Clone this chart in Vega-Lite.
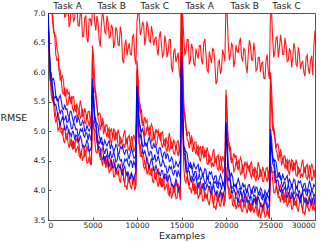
{
  "$schema": "https://vega.github.io/schema/vega-lite/v6.json",
  "width": 267,
  "height": 207,
  "autosize": "none",
  "padding": {"left": 48, "top": 13, "right": 12, "bottom": 23},
  "config": {
    "view": {"stroke": "#555", "strokeWidth": 1},
    "font": "DejaVu Sans",
    "axis": {"grid": false, "domain": false, "labelFont": "DejaVu Sans", "titleFont": "DejaVu Sans", "labelFontSize": 7.5, "labelColor": "#222", "titleColor": "#222", "titleFontWeight": "normal", "tickColor": "#555", "tickSize": -3, "labelPadding": 6, "labelOverlap": false}
  },
  "resolve": {"axis": {"x": "independent", "y": "independent"}},
  "layer": [
    {
      "data": {"values": [
        {"x":0,"r0":7.8,"ru1":7.6,"ru2":7.42,"b1":6.97,"b2":6.97,"b3":7.04,"rl1":7.0,"rl2":6.82},
        {"x":250,"r0":7.7,"ru1":7.19,"ru2":7.23,"b1":6.05,"b2":6.0,"b3":5.86,"rl1":5.89,"rl2":5.88},
        {"x":500,"r0":7.6,"ru1":7.07,"ru2":6.89,"b1":5.87,"b2":5.78,"b3":5.71,"rl1":5.51,"rl2":5.53},
        {"x":750,"r0":7.5,"ru1":6.63,"ru2":6.63,"b1":5.79,"b2":5.56,"b3":5.44,"rl1":5.44,"rl2":5.25},
        {"x":1000,"r0":7.4,"ru1":6.4,"ru2":6.2,"b1":5.57,"b2":5.52,"b3":5.36,"rl1":5.22,"rl2":5.22},
        {"x":1250,"r0":7.3,"ru1":6.02,"ru2":6.04,"b1":5.56,"b2":5.38,"b3":5.19,"rl1":5.21,"rl2":5.05},
        {"x":1500,"r0":7.25,"ru1":5.91,"ru2":5.87,"b1":5.51,"b2":5.36,"b3":5.18,"rl1":5.0,"rl2":5.03},
        {"x":1750,"r0":7.2,"ru1":5.83,"ru2":5.63,"b1":5.37,"b2":5.2,"b3":5.16,"rl1":5.04,"rl2":4.84},
        {"x":2000,"r0":6.95,"ru1":5.61,"ru2":5.6,"b1":5.37,"b2":5.27,"b3":5.02,"rl1":4.92,"rl2":4.95},
        {"x":2250,"r0":7.1,"ru1":5.63,"ru2":5.45,"b1":5.27,"b2":5.16,"b3":5.04,"rl1":4.99,"rl2":4.81},
        {"x":2500,"r0":6.85,"ru1":5.52,"ru2":5.54,"b1":5.34,"b2":5.15,"b3":4.97,"rl1":4.8,"rl2":4.82},
        {"x":2750,"r0":7.05,"ru1":5.58,"ru2":5.39,"b1":5.22,"b2":5.05,"b3":5.0,"rl1":4.84,"rl2":4.69},
        {"x":3000,"r0":6.9,"ru1":5.38,"ru2":5.42,"b1":5.24,"b2":5.11,"b3":4.85,"rl1":4.75,"rl2":4.79},
        {"x":3250,"r0":7.15,"ru1":5.47,"ru2":5.28,"b1":5.14,"b2":5.04,"b3":4.92,"rl1":4.83,"rl2":4.71},
        {"x":3500,"r0":6.78,"ru1":5.38,"ru2":5.38,"b1":5.2,"b2":4.95,"b3":4.84,"rl1":4.77,"rl2":4.59},
        {"x":3750,"r0":7.0,"ru1":5.42,"ru2":5.26,"b1":5.11,"b2":5.0,"b3":4.86,"rl1":4.63,"rl2":4.67},
        {"x":4000,"r0":6.6,"ru1":5.26,"ru2":5.29,"b1":5.14,"b2":4.93,"b3":4.76,"rl1":4.73,"rl2":4.57},
        {"x":4250,"r0":6.95,"ru1":5.31,"ru2":5.13,"b1":5.01,"b2":4.98,"b3":4.78,"rl1":4.62,"rl2":4.64},
        {"x":4500,"r0":6.5,"ru1":5.33,"ru2":5.18,"b1":5.04,"b2":4.85,"b3":4.79,"rl1":4.67,"rl2":4.47},
        {"x":4750,"r0":6.9,"ru1":5.18,"ru2":5.2,"b1":5.05,"b2":4.9,"b3":4.68,"rl1":4.52,"rl2":4.44},
        {"x":5000,"r0":7.05,"ru1":6.45,"ru2":6.3,"b1":5.89,"b2":5.77,"b3":5.72,"rl1":5.3,"rl2":5.2},
        {"x":5250,"r0":6.85,"ru1":5.86,"ru2":5.66,"b1":5.26,"b2":5.25,"b3":5.15,"rl1":5.01,"rl2":4.86},
        {"x":5500,"r0":6.95,"ru1":5.42,"ru2":5.44,"b1":5.14,"b2":4.98,"b3":4.84,"rl1":4.81,"rl2":4.63},
        {"x":5750,"r0":6.55,"ru1":5.31,"ru2":5.15,"b1":4.93,"b2":4.79,"b3":4.74,"rl1":4.63,"rl2":4.66},
        {"x":6000,"r0":6.8,"ru1":5.08,"ru2":5.12,"b1":4.9,"b2":4.79,"b3":4.56,"rl1":4.68,"rl2":4.52},
        {"x":6250,"r0":6.9,"ru1":5.13,"ru2":4.95,"b1":4.77,"b2":4.69,"b3":4.59,"rl1":4.56,"rl2":4.56},
        {"x":6500,"r0":6.65,"ru1":5.11,"ru2":4.99,"b1":4.79,"b2":4.7,"b3":4.57,"rl1":4.57,"rl2":4.38},
        {"x":6750,"r0":6.85,"ru1":4.97,"ru2":5.01,"b1":4.81,"b2":4.57,"b3":4.46,"rl1":4.4,"rl2":4.44},
        {"x":7000,"r0":6.6,"ru1":5.0,"ru2":4.85,"b1":4.7,"b2":4.67,"b3":4.48,"rl1":4.53,"rl2":4.34},
        {"x":7250,"r0":6.75,"ru1":4.89,"ru2":4.91,"b1":4.74,"b2":4.57,"b3":4.39,"rl1":4.4,"rl2":4.42},
        {"x":7500,"r0":6.5,"ru1":5.02,"ru2":4.84,"b1":4.7,"b2":4.58,"b3":4.47,"rl1":4.42,"rl2":4.24},
        {"x":7750,"r0":6.7,"ru1":4.89,"ru2":4.92,"b1":4.75,"b2":4.5,"b3":4.36,"rl1":4.3,"rl2":4.29},
        {"x":8000,"r0":6.45,"ru1":4.95,"ru2":4.75,"b1":4.62,"b2":4.57,"b3":4.39,"rl1":4.4,"rl2":4.2},
        {"x":8250,"r0":6.65,"ru1":4.83,"ru2":4.86,"b1":4.71,"b2":4.52,"b3":4.3,"rl1":4.32,"rl2":4.28},
        {"x":8500,"r0":6.15,"ru1":4.95,"ru2":4.79,"b1":4.65,"b2":4.44,"b3":4.37,"rl1":4.2,"rl2":4.22},
        {"x":8750,"r0":6.55,"ru1":4.84,"ru2":4.84,"b1":4.68,"b2":4.5,"b3":4.29,"rl1":4.28,"rl2":4.08},
        {"x":9000,"r0":6.4,"ru1":4.9,"ru2":4.71,"b1":4.59,"b2":4.44,"b3":4.32,"rl1":4.18,"rl2":4.18},
        {"x":9250,"r0":6.3,"ru1":4.76,"ru2":4.78,"b1":4.63,"b2":4.5,"b3":4.2,"rl1":4.26,"rl2":4.08},
        {"x":9500,"r0":6.6,"ru1":4.83,"ru2":4.82,"b1":4.65,"b2":4.38,"b3":4.24,"rl1":4.1,"rl2":4.14},
        {"x":9750,"r0":6.25,"ru1":4.88,"ru2":4.7,"b1":4.55,"b2":4.44,"b3":4.26,"rl1":4.18,"rl2":4.0},
        {"x":10000,"r0":6.85,"ru1":6.2,"ru2":6.05,"b1":5.77,"b2":5.72,"b3":5.74,"rl1":5.45,"rl2":5.35},
        {"x":10250,"r0":6.95,"ru1":5.44,"ru2":5.48,"b1":5.2,"b2":5.1,"b3":4.91,"rl1":4.79,"rl2":4.78},
        {"x":10500,"r0":6.7,"ru1":5.37,"ru2":5.19,"b1":4.99,"b2":4.89,"b3":4.82,"rl1":4.56,"rl2":4.58},
        {"x":10750,"r0":6.8,"ru1":5.15,"ru2":5.15,"b1":4.96,"b2":4.74,"b3":4.62,"rl1":4.59,"rl2":4.4},
        {"x":11000,"r0":6.6,"ru1":5.15,"ru2":4.95,"b1":4.8,"b2":4.75,"b3":4.59,"rl1":4.45,"rl2":4.45},
        {"x":11250,"r0":6.75,"ru1":4.99,"ru2":5.01,"b1":4.84,"b2":4.65,"b3":4.45,"rl1":4.48,"rl2":4.32},
        {"x":11500,"r0":6.5,"ru1":5.04,"ru2":5.0,"b1":4.82,"b2":4.66,"b3":4.46,"rl1":4.3,"rl2":4.33},
        {"x":11750,"r0":6.65,"ru1":5.06,"ru2":4.86,"b1":4.71,"b2":4.52,"b3":4.46,"rl1":4.36,"rl2":4.16},
        {"x":12000,"r0":6.55,"ru1":4.9,"ru2":4.89,"b1":4.73,"b2":4.61,"b3":4.33,"rl1":4.25,"rl2":4.28},
        {"x":12250,"r0":6.4,"ru1":4.97,"ru2":4.79,"b1":4.64,"b2":4.51,"b3":4.36,"rl1":4.33,"rl2":4.15},
        {"x":12500,"r0":6.6,"ru1":4.9,"ru2":4.92,"b1":4.72,"b2":4.51,"b3":4.3,"rl1":4.15,"rl2":4.17},
        {"x":12750,"r0":6.45,"ru1":4.97,"ru2":4.78,"b1":4.61,"b2":4.42,"b3":4.34,"rl1":4.2,"rl2":4.05},
        {"x":13000,"r0":6.3,"ru1":4.79,"ru2":4.83,"b1":4.63,"b2":4.48,"b3":4.19,"rl1":4.11,"rl2":4.15},
        {"x":13250,"r0":6.5,"ru1":4.9,"ru2":4.71,"b1":4.53,"b2":4.41,"b3":4.26,"rl1":4.19,"rl2":4.07},
        {"x":13500,"r0":6.35,"ru1":4.82,"ru2":4.82,"b1":4.59,"b2":4.32,"b3":4.18,"rl1":4.13,"rl2":3.95},
        {"x":13750,"r0":6.55,"ru1":4.87,"ru2":4.71,"b1":4.5,"b2":4.37,"b3":4.2,"rl1":3.99,"rl2":4.03},
        {"x":14000,"r0":6.0,"ru1":4.73,"ru2":4.76,"b1":4.52,"b2":4.29,"b3":4.09,"rl1":4.09,"rl2":3.93},
        {"x":14250,"r0":6.4,"ru1":4.79,"ru2":4.61,"b1":4.4,"b2":4.34,"b3":4.11,"rl1":4.0,"rl2":4.02},
        {"x":14500,"r0":6.25,"ru1":4.82,"ru2":4.67,"b1":4.44,"b2":4.22,"b3":4.13,"rl1":4.07,"rl2":3.87},
        {"x":14750,"r0":6.0,"ru1":4.69,"ru2":4.71,"b1":4.46,"b2":4.28,"b3":4.03,"rl1":3.94,"rl2":3.96},
        {"x":15000,"r0":7.1,"ru1":7.6,"ru2":7.5,"b1":6.34,"b2":6.22,"b3":6.17,"rl1":6.0,"rl2":5.9},
        {"x":15250,"r0":6.6,"ru1":5.51,"ru2":5.31,"b1":4.76,"b2":4.75,"b3":4.65,"rl1":4.56,"rl2":4.41},
        {"x":15500,"r0":6.35,"ru1":5.07,"ru2":5.09,"b1":4.66,"b2":4.51,"b3":4.39,"rl1":4.31,"rl2":4.13},
        {"x":15750,"r0":6.55,"ru1":4.99,"ru2":4.83,"b1":4.48,"b2":4.36,"b3":4.34,"rl1":4.13,"rl2":4.16},
        {"x":16000,"r0":6.2,"ru1":4.78,"ru2":4.82,"b1":4.48,"b2":4.39,"b3":4.18,"rl1":4.2,"rl2":4.04},
        {"x":16250,"r0":6.4,"ru1":4.83,"ru2":4.65,"b1":4.37,"b2":4.3,"b3":4.22,"rl1":4.09,"rl2":4.09},
        {"x":16500,"r0":6.1,"ru1":4.82,"ru2":4.7,"b1":4.4,"b2":4.32,"b3":4.21,"rl1":4.12,"rl2":3.93},
        {"x":16750,"r0":6.3,"ru1":4.67,"ru2":4.71,"b1":4.41,"b2":4.19,"b3":4.1,"rl1":3.96,"rl2":4.0},
        {"x":17000,"r0":6.45,"ru1":4.7,"ru2":4.55,"b1":4.3,"b2":4.29,"b3":4.12,"rl1":4.1,"rl2":3.91},
        {"x":17250,"r0":6.2,"ru1":4.59,"ru2":4.61,"b1":4.34,"b2":4.2,"b3":4.04,"rl1":3.98,"rl2":4.0},
        {"x":17500,"r0":6.5,"ru1":4.72,"ru2":4.54,"b1":4.29,"b2":4.21,"b3":4.13,"rl1":4.01,"rl2":3.83},
        {"x":17750,"r0":6.3,"ru1":4.59,"ru2":4.62,"b1":4.34,"b2":4.13,"b3":4.03,"rl1":3.9,"rl2":3.89},
        {"x":18000,"r0":6.0,"ru1":4.64,"ru2":4.44,"b1":4.2,"b2":4.2,"b3":4.06,"rl1":4.01,"rl2":3.81},
        {"x":18250,"r0":6.25,"ru1":4.52,"ru2":4.55,"b1":4.28,"b2":4.14,"b3":3.97,"rl1":3.94,"rl2":3.9},
        {"x":18500,"r0":6.4,"ru1":4.63,"ru2":4.47,"b1":4.21,"b2":4.06,"b3":4.04,"rl1":3.83,"rl2":3.85},
        {"x":18750,"r0":6.15,"ru1":4.52,"ru2":4.52,"b1":4.24,"b2":4.12,"b3":3.96,"rl1":3.93,"rl2":3.73},
        {"x":19000,"r0":5.85,"ru1":4.57,"ru2":4.38,"b1":4.15,"b2":4.06,"b3":4.0,"rl1":3.85,"rl2":3.85},
        {"x":19250,"r0":6.2,"ru1":4.42,"ru2":4.44,"b1":4.19,"b2":4.13,"b3":3.89,"rl1":3.95,"rl2":3.77},
        {"x":19500,"r0":6.05,"ru1":4.48,"ru2":4.47,"b1":4.21,"b2":4.01,"b3":3.94,"rl1":3.81,"rl2":3.85},
        {"x":19750,"r0":6.3,"ru1":4.52,"ru2":4.34,"b1":4.12,"b2":4.08,"b3":3.97,"rl1":3.91,"rl2":3.73},
        {"x":20000,"r0":7.2,"ru1":5.7,"ru2":5.6,"b1":5.17,"b2":5.12,"b3":5.14,"rl1":4.4,"rl2":4.22},
        {"x":20250,"r0":6.5,"ru1":4.79,"ru2":4.83,"b1":4.45,"b2":4.35,"b3":4.16,"rl1":4.04,"rl2":4.03},
        {"x":20500,"r0":6.3,"ru1":4.72,"ru2":4.54,"b1":4.24,"b2":4.16,"b3":4.11,"rl1":3.86,"rl2":3.88},
        {"x":20750,"r0":6.45,"ru1":4.53,"ru2":4.53,"b1":4.22,"b2":4.04,"b3":3.96,"rl1":3.94,"rl2":3.75},
        {"x":21000,"r0":6.2,"ru1":4.55,"ru2":4.35,"b1":4.08,"b2":4.08,"b3":3.97,"rl1":3.84,"rl2":3.84},
        {"x":21250,"r0":6.35,"ru1":4.41,"ru2":4.43,"b1":4.13,"b2":4.0,"b3":3.86,"rl1":3.91,"rl2":3.75},
        {"x":21500,"r0":6.5,"ru1":4.47,"ru2":4.43,"b1":4.13,"b2":4.03,"b3":3.9,"rl1":3.76,"rl2":3.79},
        {"x":21750,"r0":6.25,"ru1":4.5,"ru2":4.3,"b1":4.03,"b2":3.91,"b3":3.92,"rl1":3.85,"rl2":3.65},
        {"x":22000,"r0":6.4,"ru1":4.35,"ru2":4.34,"b1":4.06,"b2":4.02,"b3":3.82,"rl1":3.77,"rl2":3.8},
        {"x":22250,"r0":6.1,"ru1":4.42,"ru2":4.24,"b1":3.99,"b2":3.94,"b3":3.87,"rl1":3.87,"rl2":3.69},
        {"x":22500,"r0":6.3,"ru1":4.36,"ru2":4.38,"b1":4.09,"b2":3.96,"b3":3.83,"rl1":3.71,"rl2":3.73},
        {"x":22750,"r0":6.45,"ru1":4.45,"ru2":4.26,"b1":4.0,"b2":3.89,"b3":3.89,"rl1":3.78,"rl2":3.63},
        {"x":23000,"r0":6.2,"ru1":4.28,"ru2":4.32,"b1":4.04,"b2":3.97,"b3":3.76,"rl1":3.71,"rl2":3.75},
        {"x":23250,"r0":6.35,"ru1":4.4,"ru2":4.21,"b1":3.96,"b2":3.92,"b3":3.85,"rl1":3.81,"rl2":3.69},
        {"x":23500,"r0":6.05,"ru1":4.33,"ru2":4.33,"b1":4.04,"b2":3.85,"b3":3.79,"rl1":3.77,"rl2":3.59},
        {"x":23750,"r0":6.25,"ru1":4.39,"ru2":4.23,"b1":3.97,"b2":3.92,"b3":3.83,"rl1":3.65,"rl2":3.69},
        {"x":24000,"r0":6.15,"ru1":4.26,"ru2":4.29,"b1":4.01,"b2":3.86,"b3":3.74,"rl1":3.77,"rl2":3.61},
        {"x":24250,"r0":5.9,"ru1":4.33,"ru2":4.15,"b1":3.9,"b2":3.93,"b3":3.78,"rl1":3.69,"rl2":3.71},
        {"x":24500,"r0":6.2,"ru1":4.37,"ru2":4.22,"b1":3.95,"b2":3.82,"b3":3.81,"rl1":3.77,"rl2":3.57},
        {"x":24750,"r0":6.0,"ru1":4.25,"ru2":4.27,"b1":3.98,"b2":3.89,"b3":3.72,"rl1":3.62,"rl2":3.56},
        {"x":25000,"r0":7.1,"ru1":6.0,"ru2":5.9,"b1":5.04,"b2":4.92,"b3":4.87,"rl1":4.5,"rl2":4.4},
        {"x":25250,"r0":6.55,"ru1":5.21,"ru2":5.01,"b1":4.56,"b2":4.55,"b3":4.45,"rl1":4.31,"rl2":4.16},
        {"x":25500,"r0":6.35,"ru1":4.87,"ru2":4.89,"b1":4.51,"b2":4.36,"b3":4.24,"rl1":4.14,"rl2":3.96},
        {"x":25750,"r0":6.6,"ru1":4.79,"ru2":4.63,"b1":4.33,"b2":4.21,"b3":4.18,"rl1":3.98,"rl2":4.01},
        {"x":26000,"r0":6.4,"ru1":4.56,"ru2":4.6,"b1":4.31,"b2":4.22,"b3":4.01,"rl1":4.05,"rl2":3.89},
        {"x":26250,"r0":6.5,"ru1":4.6,"ru2":4.42,"b1":4.18,"b2":4.12,"b3":4.04,"rl1":3.94,"rl2":3.94},
        {"x":26500,"r0":6.3,"ru1":4.58,"ru2":4.46,"b1":4.21,"b2":4.14,"b3":4.03,"rl1":3.97,"rl2":3.78},
        {"x":26750,"r0":6.45,"ru1":4.44,"ru2":4.48,"b1":4.22,"b2":4.01,"b3":3.92,"rl1":3.82,"rl2":3.86},
        {"x":27000,"r0":6.2,"ru1":4.47,"ru2":4.32,"b1":4.11,"b2":4.11,"b3":3.95,"rl1":3.96,"rl2":3.77},
        {"x":27250,"r0":6.35,"ru1":4.37,"ru2":4.39,"b1":4.15,"b2":4.02,"b3":3.87,"rl1":3.84,"rl2":3.86},
        {"x":27500,"r0":6.25,"ru1":4.5,"ru2":4.32,"b1":4.11,"b2":4.03,"b3":3.96,"rl1":3.88,"rl2":3.7},
        {"x":27750,"r0":6.4,"ru1":4.38,"ru2":4.41,"b1":4.17,"b2":3.96,"b3":3.87,"rl1":3.78,"rl2":3.77},
        {"x":28000,"r0":6.1,"ru1":4.44,"ru2":4.24,"b1":4.04,"b2":4.04,"b3":3.91,"rl1":3.9,"rl2":3.7},
        {"x":28250,"r0":6.3,"ru1":4.33,"ru2":4.36,"b1":4.13,"b2":3.99,"b3":3.83,"rl1":3.84,"rl2":3.8},
        {"x":28500,"r0":6.15,"ru1":4.45,"ru2":4.29,"b1":4.07,"b2":3.92,"b3":3.91,"rl1":3.74,"rl2":3.76},
        {"x":28750,"r0":6.0,"ru1":4.35,"ru2":4.35,"b1":4.11,"b2":3.99,"b3":3.84,"rl1":3.84,"rl2":3.64},
        {"x":29000,"r0":6.25,"ru1":4.41,"ru2":4.22,"b1":4.02,"b2":3.93,"b3":3.88,"rl1":3.76,"rl2":3.76},
        {"x":29250,"r0":6.05,"ru1":4.27,"ru2":4.29,"b1":4.07,"b2":4.01,"b3":3.77,"rl1":3.87,"rl2":3.69},
        {"x":29500,"r0":6.2,"ru1":4.34,"ru2":4.33,"b1":4.1,"b2":3.9,"b3":3.82,"rl1":3.73,"rl2":3.77},
        {"x":29750,"r0":5.95,"ru1":4.39,"ru2":4.21,"b1":4.02,"b2":3.97,"b3":3.85,"rl1":3.84,"rl2":3.66},
        {"x":30000,"r0":6.7,"ru1":4.35,"ru2":4.21,"b1":4.06,"b2":3.94,"b3":3.78,"rl1":3.82,"rl2":3.65},
        {"x":125,"r0":7.9,"ru1":7.5,"ru2":7.24,"b1":6.58,"b2":6.43,"b3":6.5,"rl1":6.35,"rl2":6.46},
        {"x":375,"r0":7.45,"ru1":7.05,"ru2":7.17,"b1":5.91,"b2":5.97,"b3":5.86,"rl1":5.79,"rl2":5.6},
        {"x":625,"r0":7.65,"ru1":6.74,"ru2":6.68,"b1":5.89,"b2":5.6,"b3":5.5,"rl1":5.59,"rl2":5.48},
        {"x":875,"r0":7.2,"ru1":6.61,"ru2":6.3,"b1":5.6,"b2":5.59,"b3":5.46,"rl1":5.25,"rl2":5.16},
        {"x":1125,"r0":7.53,"ru1":6.33,"ru2":6.22,"b1":5.51,"b2":5.52,"b3":5.23,"rl1":5.32,"rl2":5.01},
        {"x":1375,"r0":7.18,"ru1":5.87,"ru2":6.03,"b1":5.61,"b2":5.29,"b3":5.12,"rl1":4.99,"rl2":5.14},
        {"x":1625,"r0":7.43,"ru1":5.94,"ru2":5.65,"b1":5.39,"b2":5.34,"b3":5.25,"rl1":4.93,"rl2":5.04},
        {"x":1875,"r0":6.93,"ru1":5.6,"ru2":5.74,"b1":5.45,"b2":5.19,"b3":5.03,"rl1":5.08,"rl2":4.81},
        {"x":2125,"r0":7.15,"ru1":5.72,"ru2":5.44,"b1":5.38,"b2":5.15,"b3":5.1,"rl1":4.85,"rl2":4.96},
        {"x":2375,"r0":6.76,"ru1":5.66,"ru2":5.6,"b1":5.24,"b2":5.24,"b3":4.96,"rl1":5.02,"rl2":4.72},
        {"x":2625,"r0":7.11,"ru1":5.46,"ru2":5.58,"b1":5.33,"b2":5.04,"b3":4.91,"rl1":4.74,"rl2":4.87},
        {"x":2875,"r0":6.86,"ru1":5.59,"ru2":5.33,"b1":5.15,"b2":5.15,"b3":4.99,"rl1":4.7,"rl2":4.83},
        {"x":3125,"r0":7.25,"ru1":5.33,"ru2":5.44,"b1":5.26,"b2":5.03,"b3":4.94,"rl1":4.88,"rl2":4.64},
        {"x":3375,"r0":6.79,"ru1":5.36,"ru2":5.21,"b1":5.23,"b2":4.92,"b3":4.81,"rl1":4.91,"rl2":4.75},
        {"x":3625,"r0":6.99,"ru1":5.52,"ru2":5.22,"b1":5.1,"b2":5.04,"b3":4.93,"rl1":4.58,"rl2":4.55},
        {"x":3875,"r0":6.6,"ru1":5.25,"ru2":5.38,"b1":5.18,"b2":5.04,"b3":4.75,"rl1":4.76,"rl2":4.5},
        {"x":4125,"r0":6.92,"ru1":5.39,"ru2":5.14,"b1":5.0,"b2":4.9,"b3":4.72,"rl1":4.58,"rl2":4.7},
        {"x":4375,"r0":6.57,"ru1":5.21,"ru2":5.28,"b1":5.1,"b2":4.97,"b3":4.86,"rl1":4.76,"rl2":4.46},
        {"x":4625,"r0":6.9,"ru1":5.34,"ru2":5.08,"b1":5.0,"b2":4.96,"b3":4.66,"rl1":4.69,"rl2":4.57},
        {"x":4875,"r0":6.78,"ru1":5.08,"ru2":5.29,"b1":5.11,"b2":4.83,"b3":4.74,"rl1":4.42,"rl2":4.52},
        {"x":5125,"r0":7.1,"ru1":6.25,"ru2":5.89,"b1":5.65,"b2":5.45,"b3":5.49,"rl1":5.06,"rl2":5.14},
        {"x":5375,"r0":6.7,"ru1":5.56,"ru2":5.66,"b1":5.15,"b2":5.2,"b3":5.07,"rl1":5.0,"rl2":4.65},
        {"x":5625,"r0":6.85,"ru1":5.26,"ru2":5.22,"b1":5.1,"b2":4.82,"b3":4.71,"rl1":4.83,"rl2":4.74},
        {"x":5875,"r0":6.43,"ru1":5.29,"ru2":5.02,"b1":4.84,"b2":4.84,"b3":4.71,"rl1":4.58,"rl2":4.52},
        {"x":6125,"r0":7.03,"ru1":5.23,"ru2":5.14,"b1":4.78,"b2":4.81,"b3":4.53,"rl1":4.72,"rl2":4.42},
        {"x":6375,"r0":6.68,"ru1":5.02,"ru2":5.04,"b1":4.85,"b2":4.62,"b3":4.51,"rl1":4.45,"rl2":4.57},
        {"x":6625,"r0":6.95,"ru1":5.11,"ru2":4.9,"b1":4.75,"b2":4.7,"b3":4.6,"rl1":4.4,"rl2":4.52},
        {"x":6875,"r0":6.58,"ru1":4.87,"ru2":5.05,"b1":4.84,"b2":4.57,"b3":4.41,"rl1":4.57,"rl2":4.3},
        {"x":7125,"r0":6.8,"ru1":5.05,"ru2":4.79,"b1":4.78,"b2":4.55,"b3":4.51,"rl1":4.36,"rl2":4.46},
        {"x":7375,"r0":6.41,"ru1":5.04,"ru2":4.98,"b1":4.65,"b2":4.66,"b3":4.38,"rl1":4.53,"rl2":4.23},
        {"x":7625,"r0":6.76,"ru1":4.87,"ru2":4.99,"b1":4.78,"b2":4.48,"b3":4.34,"rl1":4.28,"rl2":4.39},
        {"x":7875,"r0":6.46,"ru1":5.03,"ru2":4.76,"b1":4.61,"b2":4.61,"b3":4.44,"rl1":4.25,"rl2":4.34},
        {"x":8125,"r0":6.77,"ru1":4.79,"ru2":4.9,"b1":4.74,"b2":4.5,"b3":4.4,"rl1":4.45,"rl2":4.13},
        {"x":8375,"r0":6.22,"ru1":4.82,"ru2":4.71,"b1":4.74,"b2":4.4,"b3":4.27,"rl1":4.37,"rl2":4.35},
        {"x":8625,"r0":6.45,"ru1":5.02,"ru2":4.72,"b1":4.61,"b2":4.53,"b3":4.41,"rl1":4.12,"rl2":4.07},
        {"x":8875,"r0":6.28,"ru1":4.78,"ru2":4.88,"b1":4.69,"b2":4.54,"b3":4.25,"rl1":4.31,"rl2":4.01},
        {"x":9125,"r0":6.49,"ru1":4.93,"ru2":4.68,"b1":4.53,"b2":4.41,"b3":4.21,"rl1":4.12,"rl2":4.23},
        {"x":9375,"r0":6.29,"ru1":4.69,"ru2":4.92,"b1":4.71,"b2":4.49,"b3":4.29,"rl1":4.29,"rl2":4.02},
        {"x":9625,"r0":6.63,"ru1":4.94,"ru2":4.65,"b1":4.55,"b2":4.49,"b3":4.17,"rl1":4.23,"rl2":4.18},
        {"x":9875,"r0":6.13,"ru1":4.78,"ru2":4.79,"b1":4.61,"b2":4.37,"b3":4.32,"rl1":4.08,"rl2":4.08},
        {"x":10125,"r0":7.05,"ru1":5.92,"ru2":5.68,"b1":5.56,"b2":5.35,"b3":5.38,"rl1":5.02,"rl2":5.18},
        {"x":10375,"r0":6.63,"ru1":5.32,"ru2":5.45,"b1":5.05,"b2":5.08,"b3":4.94,"rl1":4.77,"rl2":4.58},
        {"x":10625,"r0":6.85,"ru1":5.15,"ru2":5.09,"b1":5.04,"b2":4.75,"b3":4.64,"rl1":4.69,"rl2":4.58},
        {"x":10875,"r0":6.45,"ru1":5.24,"ru2":4.93,"b1":4.8,"b2":4.8,"b3":4.67,"rl1":4.44,"rl2":4.36},
        {"x":11125,"r0":6.86,"ru1":5.19,"ru2":5.08,"b1":4.76,"b2":4.77,"b3":4.47,"rl1":4.57,"rl2":4.27},
        {"x":11375,"r0":6.53,"ru1":4.92,"ru2":5.07,"b1":4.9,"b2":4.58,"b3":4.39,"rl1":4.27,"rl2":4.43},
        {"x":11625,"r0":6.78,"ru1":5.12,"ru2":4.83,"b1":4.72,"b2":4.65,"b3":4.54,"rl1":4.24,"rl2":4.36},
        {"x":11875,"r0":6.45,"ru1":4.86,"ru2":5.0,"b1":4.8,"b2":4.52,"b3":4.34,"rl1":4.41,"rl2":4.13},
        {"x":12125,"r0":6.6,"ru1":5.04,"ru2":4.75,"b1":4.75,"b2":4.49,"b3":4.42,"rl1":4.18,"rl2":4.3},
        {"x":12375,"r0":6.28,"ru1":5.02,"ru2":4.96,"b1":4.61,"b2":4.59,"b3":4.28,"rl1":4.36,"rl2":4.06},
        {"x":12625,"r0":6.69,"ru1":4.85,"ru2":4.96,"b1":4.72,"b2":4.41,"b3":4.24,"rl1":4.1,"rl2":4.23},
        {"x":12875,"r0":6.26,"ru1":4.99,"ru2":4.72,"b1":4.54,"b2":4.52,"b3":4.33,"rl1":4.06,"rl2":4.19},
        {"x":13125,"r0":6.62,"ru1":4.75,"ru2":4.86,"b1":4.65,"b2":4.4,"b3":4.28,"rl1":4.24,"rl2":4.0},
        {"x":13375,"r0":6.25,"ru1":4.79,"ru2":4.65,"b1":4.62,"b2":4.29,"b3":4.15,"rl1":4.27,"rl2":4.11},
        {"x":13625,"r0":6.55,"ru1":4.97,"ru2":4.67,"b1":4.49,"b2":4.41,"b3":4.27,"rl1":3.94,"rl2":3.91},
        {"x":13875,"r0":6.08,"ru1":4.71,"ru2":4.84,"b1":4.56,"b2":4.4,"b3":4.09,"rl1":4.12,"rl2":3.86},
        {"x":14125,"r0":6.34,"ru1":4.86,"ru2":4.62,"b1":4.38,"b2":4.26,"b3":4.05,"rl1":3.95,"rl2":4.08},
        {"x":14375,"r0":6.17,"ru1":4.7,"ru2":4.76,"b1":4.49,"b2":4.33,"b3":4.19,"rl1":4.15,"rl2":3.86},
        {"x":14625,"r0":6.33,"ru1":4.84,"ru2":4.58,"b1":4.4,"b2":4.33,"b3":4.0,"rl1":4.1,"rl2":4.03},
        {"x":14875,"r0":5.88,"ru1":4.59,"ru2":4.8,"b1":4.52,"b2":4.21,"b3":4.09,"rl1":3.84,"rl2":4.04},
        {"x":15125,"r0":7.0,"ru1":6.3,"ru2":6.01,"b1":5.57,"b2":5.34,"b3":5.35,"rl1":5.18,"rl2":5.27},
        {"x":15375,"r0":6.28,"ru1":5.21,"ru2":5.31,"b1":4.66,"b2":4.71,"b3":4.59,"rl1":4.53,"rl2":4.17},
        {"x":15625,"r0":6.55,"ru1":4.92,"ru2":4.88,"b1":4.63,"b2":4.37,"b3":4.29,"rl1":4.33,"rl2":4.24},
        {"x":15875,"r0":6.13,"ru1":4.98,"ru2":4.71,"b1":4.4,"b2":4.43,"b3":4.32,"rl1":4.09,"rl2":4.03},
        {"x":16125,"r0":6.48,"ru1":4.93,"ru2":4.84,"b1":4.37,"b2":4.42,"b3":4.15,"rl1":4.25,"rl2":3.95},
        {"x":16375,"r0":6.15,"ru1":4.73,"ru2":4.75,"b1":4.46,"b2":4.23,"b3":4.15,"rl1":3.99,"rl2":4.11},
        {"x":16625,"r0":6.4,"ru1":4.82,"ru2":4.61,"b1":4.36,"b2":4.32,"b3":4.24,"rl1":3.95,"rl2":4.08},
        {"x":16875,"r0":6.23,"ru1":4.57,"ru2":4.75,"b1":4.44,"b2":4.19,"b3":4.05,"rl1":4.13,"rl2":3.87},
        {"x":17125,"r0":6.45,"ru1":4.75,"ru2":4.49,"b1":4.38,"b2":4.18,"b3":4.15,"rl1":3.93,"rl2":4.04},
        {"x":17375,"r0":6.13,"ru1":4.74,"ru2":4.68,"b1":4.25,"b2":4.29,"b3":4.04,"rl1":4.12,"rl2":3.82},
        {"x":17625,"r0":6.56,"ru1":4.57,"ru2":4.69,"b1":4.37,"b2":4.11,"b3":4.0,"rl1":3.88,"rl2":3.98},
        {"x":17875,"r0":6.03,"ru1":4.73,"ru2":4.45,"b1":4.19,"b2":4.24,"b3":4.11,"rl1":3.86,"rl2":3.94},
        {"x":18125,"r0":6.35,"ru1":4.48,"ru2":4.59,"b1":4.31,"b2":4.12,"b3":4.07,"rl1":4.07,"rl2":3.75},
        {"x":18375,"r0":6.15,"ru1":4.51,"ru2":4.39,"b1":4.31,"b2":4.02,"b3":3.94,"rl1":4.0,"rl2":3.98},
        {"x":18625,"r0":6.38,"ru1":4.7,"ru2":4.4,"b1":4.17,"b2":4.15,"b3":4.08,"rl1":3.76,"rl2":3.71},
        {"x":18875,"r0":5.8,"ru1":4.46,"ru2":4.55,"b1":4.25,"b2":4.16,"b3":3.92,"rl1":3.97,"rl2":3.67},
        {"x":19125,"r0":6.17,"ru1":4.6,"ru2":4.34,"b1":4.09,"b2":4.04,"b3":3.9,"rl1":3.8,"rl2":3.91},
        {"x":19375,"r0":5.97,"ru1":4.34,"ru2":4.58,"b1":4.27,"b2":4.12,"b3":3.99,"rl1":3.99,"rl2":3.72},
        {"x":19625,"r0":6.38,"ru1":4.58,"ru2":4.3,"b1":4.12,"b2":4.13,"b3":3.88,"rl1":3.95,"rl2":3.9},
        {"x":19875,"r0":6.18,"ru1":4.42,"ru2":4.43,"b1":4.18,"b2":4.01,"b3":4.03,"rl1":3.81,"rl2":3.81},
        {"x":20125,"r0":7.0,"ru1":5.35,"ru2":5.13,"b1":4.88,"b2":4.68,"b3":4.7,"rl1":4.12,"rl2":4.24},
        {"x":20375,"r0":6.2,"ru1":4.68,"ru2":4.8,"b1":4.3,"b2":4.34,"b3":4.21,"rl1":4.04,"rl2":3.86},
        {"x":20625,"r0":6.48,"ru1":4.52,"ru2":4.46,"b1":4.29,"b2":4.03,"b3":3.96,"rl1":4.01,"rl2":3.91},
        {"x":20875,"r0":6.08,"ru1":4.63,"ru2":4.32,"b1":4.07,"b2":4.11,"b3":4.03,"rl1":3.81,"rl2":3.73},
        {"x":21125,"r0":6.46,"ru1":4.6,"ru2":4.49,"b1":4.05,"b2":4.11,"b3":3.87,"rl1":3.98,"rl2":3.68},
        {"x":21375,"r0":6.33,"ru1":4.34,"ru2":4.5,"b1":4.2,"b2":3.94,"b3":3.81,"rl1":3.72,"rl2":3.87},
        {"x":21625,"r0":6.58,"ru1":4.56,"ru2":4.27,"b1":4.03,"b2":4.03,"b3":3.99,"rl1":3.72,"rl2":3.83},
        {"x":21875,"r0":6.18,"ru1":4.31,"ru2":4.44,"b1":4.13,"b2":3.92,"b3":3.81,"rl1":3.91,"rl2":3.64},
        {"x":22125,"r0":6.37,"ru1":4.49,"ru2":4.2,"b1":4.09,"b2":3.91,"b3":3.92,"rl1":3.71,"rl2":3.83},
        {"x":22375,"r0":5.98,"ru1":4.47,"ru2":4.41,"b1":3.97,"b2":4.03,"b3":3.8,"rl1":3.91,"rl2":3.61},
        {"x":22625,"r0":6.54,"ru1":4.32,"ru2":4.43,"b1":4.1,"b2":3.87,"b3":3.78,"rl1":3.67,"rl2":3.8},
        {"x":22875,"r0":6.21,"ru1":4.48,"ru2":4.21,"b1":3.94,"b2":4.0,"b3":3.89,"rl1":3.65,"rl2":3.78},
        {"x":23125,"r0":6.5,"ru1":4.24,"ru2":4.36,"b1":4.07,"b2":3.9,"b3":3.86,"rl1":3.85,"rl2":3.61},
        {"x":23375,"r0":6.02,"ru1":4.3,"ru2":4.15,"b1":4.06,"b2":3.81,"b3":3.75,"rl1":3.9,"rl2":3.74},
        {"x":23625,"r0":6.25,"ru1":4.48,"ru2":4.18,"b1":3.95,"b2":3.95,"b3":3.89,"rl1":3.59,"rl2":3.56},
        {"x":23875,"r0":6.0,"ru1":4.24,"ru2":4.36,"b1":4.04,"b2":3.96,"b3":3.73,"rl1":3.79,"rl2":3.53},
        {"x":24125,"r0":6.17,"ru1":4.4,"ru2":4.15,"b1":3.88,"b2":3.84,"b3":3.71,"rl1":3.63,"rl2":3.76},
        {"x":24375,"r0":5.89,"ru1":4.24,"ru2":4.31,"b1":4.0,"b2":3.93,"b3":3.87,"rl1":3.84,"rl2":3.55},
        {"x":24625,"r0":6.3,"ru1":4.39,"ru2":4.14,"b1":3.92,"b2":3.94,"b3":3.69,"rl1":3.79,"rl2":3.68},
        {"x":24875,"r0":5.88,"ru1":4.15,"ru2":4.36,"b1":4.04,"b2":3.82,"b3":3.78,"rl1":3.52,"rl2":3.64},
        {"x":25125,"r0":6.98,"ru1":5.7,"ru2":5.37,"b1":4.87,"b2":4.68,"b3":4.71,"rl1":4.31,"rl2":4.39},
        {"x":25375,"r0":6.25,"ru1":4.96,"ru2":5.06,"b1":4.49,"b2":4.54,"b3":4.42,"rl1":4.32,"rl2":3.96},
        {"x":25625,"r0":6.58,"ru1":4.72,"ru2":4.68,"b1":4.48,"b2":4.22,"b3":4.13,"rl1":4.17,"rl2":4.08},
        {"x":25875,"r0":6.25,"ru1":4.77,"ru2":4.5,"b1":4.24,"b2":4.27,"b3":4.16,"rl1":3.94,"rl2":3.88},
        {"x":26125,"r0":6.63,"ru1":4.7,"ru2":4.61,"b1":4.19,"b2":4.24,"b3":3.98,"rl1":4.1,"rl2":3.8},
        {"x":26375,"r0":6.3,"ru1":4.49,"ru2":4.51,"b1":4.27,"b2":4.05,"b3":3.97,"rl1":3.84,"rl2":3.96},
        {"x":26625,"r0":6.58,"ru1":4.58,"ru2":4.37,"b1":4.17,"b2":4.14,"b3":4.06,"rl1":3.81,"rl2":3.93},
        {"x":26875,"r0":6.18,"ru1":4.34,"ru2":4.52,"b1":4.25,"b2":4.01,"b3":3.88,"rl1":3.99,"rl2":3.73},
        {"x":27125,"r0":6.4,"ru1":4.52,"ru2":4.27,"b1":4.19,"b2":4.0,"b3":3.98,"rl1":3.79,"rl2":3.9},
        {"x":27375,"r0":6.08,"ru1":4.52,"ru2":4.46,"b1":4.06,"b2":4.11,"b3":3.87,"rl1":3.98,"rl2":3.68},
        {"x":27625,"r0":6.49,"ru1":4.35,"ru2":4.48,"b1":4.19,"b2":3.94,"b3":3.84,"rl1":3.75,"rl2":3.86},
        {"x":27875,"r0":6.13,"ru1":4.52,"ru2":4.25,"b1":4.03,"b2":4.07,"b3":3.95,"rl1":3.74,"rl2":3.83},
        {"x":28125,"r0":6.42,"ru1":4.29,"ru2":4.39,"b1":4.16,"b2":3.97,"b3":3.92,"rl1":3.96,"rl2":3.64},
        {"x":28375,"r0":6.05,"ru1":4.32,"ru2":4.21,"b1":4.16,"b2":3.88,"b3":3.8,"rl1":3.9,"rl2":3.88},
        {"x":28625,"r0":6.18,"ru1":4.52,"ru2":4.22,"b1":4.03,"b2":4.02,"b3":3.96,"rl1":3.67,"rl2":3.62},
        {"x":28875,"r0":5.93,"ru1":4.29,"ru2":4.39,"b1":4.12,"b2":4.03,"b3":3.8,"rl1":3.88,"rl2":3.58},
        {"x":29125,"r0":6.29,"ru1":4.44,"ru2":4.19,"b1":3.97,"b2":3.91,"b3":3.78,"rl1":3.72,"rl2":3.83},
        {"x":29375,"r0":5.97,"ru1":4.2,"ru2":4.43,"b1":4.16,"b2":4.01,"b3":3.87,"rl1":3.91,"rl2":3.64},
        {"x":29625,"r0":6.28,"ru1":4.45,"ru2":4.16,"b1":4.01,"b2":4.02,"b3":3.76,"rl1":3.88,"rl2":3.83},
        {"x":29875,"r0":6.45,"ru1":4.27,"ru2":4.3,"b1":4.1,"b2":3.89,"b3":3.88,"rl1":3.73,"rl2":3.74}
      ]},
      "transform": [{"fold": ["r0", "ru1", "ru2", "rl1", "rl2", "b1", "b2", "b3"], "as": ["series", "rmse"]}],
      "mark": {"type": "line", "clip": true, "strokeWidth": 1.1, "opacity": 0.9},
      "encoding": {
        "x": {"field": "x", "type": "quantitative", "scale": {"domain": [0, 30000], "nice": false, "zero": false},
              "axis": {"values": [0, 5000, 10000, 15000, 20000, 25000, 30000], "format": "d", "labelOverlap": false, "title": "Examples", "titleFontSize": 9.5, "titleBaseline": "alphabetic", "titleY": 18.5, "labelPadding": 4.5}},
        "y": {"field": "rmse", "type": "quantitative", "scale": {"domain": [3.5, 7], "nice": false, "zero": false},
              "axis": {"values": [3.5, 4, 4.5, 5, 5.5, 6, 6.5, 7], "format": ".1f", "labelOverlap": false, "labelFlush": false, "title": "RMSE", "titleFontSize": 9.5, "titleAngle": 0, "titleAlign": "left", "titleBaseline": "middle", "titleX": -48, "titleY": 104}},
        "color": {"field": "series", "type": "nominal", "legend": null,
                  "scale": {"domain": ["r0", "ru1", "ru2", "rl1", "rl2", "b1", "b2", "b3"], "range": ["#ff0000", "#ff0000", "#ff0000", "#ff0000", "#ff0000", "#0000ff", "#0000ff", "#0000ff"]}}
      }
    },
    {
      "data": {"values": [
        {"pos": 2200, "task": "Task A"},
        {"pos": 7150, "task": "Task B"},
        {"pos": 12000, "task": "Task C"},
        {"pos": 17050, "task": "Task A"},
        {"pos": 22100, "task": "Task B"},
        {"pos": 26800, "task": "Task C"}
      ]},
      "mark": {"type": "text", "dy": -4, "baseline": "alphabetic", "align": "center", "fontSize": 9, "font": "DejaVu Sans", "color": "#222"},
      "encoding": {
        "x": {"field": "pos", "type": "quantitative", "axis": null},
        "y": {"datum": 7, "type": "quantitative", "axis": null},
        "text": {"field": "task"}
      }
    }
  ]
}
